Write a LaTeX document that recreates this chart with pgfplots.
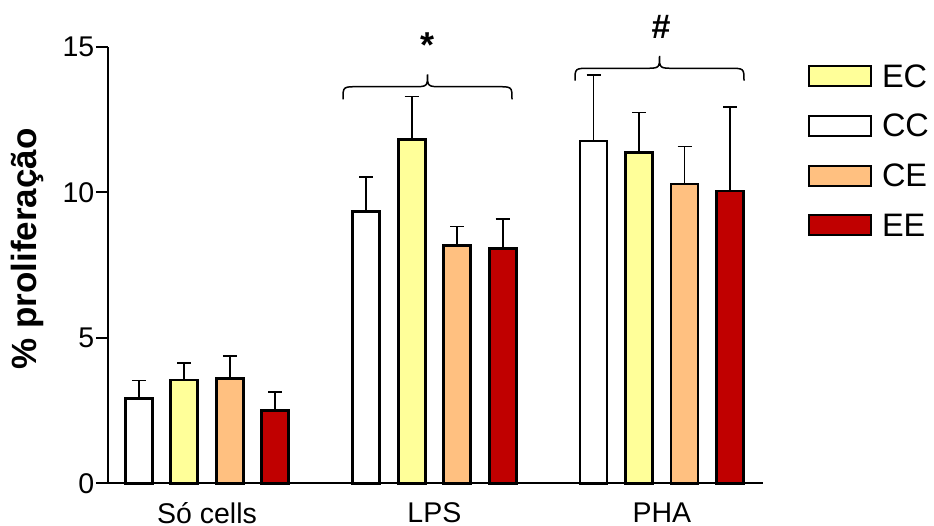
\documentclass[border=0pt]{standalone}
\usepackage{fontspec}
\setmainfont{Liberation Sans}
\usepackage{pgfplots}
\pgfplotsset{compat=1.18}
\definecolor{cyel}{RGB}{255,255,153}
\definecolor{corg}{RGB}{255,192,128}
\definecolor{cred}{RGB}{192,0,0}
\begin{document}
\begin{tikzpicture}
\begin{axis}[
  at={(0pt,0pt)}, anchor=south west,
  scale only axis, width=655pt, height=436.6pt,
  xmin=-0.4354, xmax=2.445, ymin=0, ymax=15,
  axis x line=bottom, axis y line=left,
  axis line style={-, line width=2pt, black},
  ybar, bar width=27pt,
  xtick={0,1,2}, xticklabels={Só cells, LPS, PHA},
  x tick style={draw=none},
  ytick={0,5,10,15},
  tick align=outside, major tick length=12pt,
  y tick style={line width=2pt, black},
  /pgf/number format/assume math mode=true,
  tick label style={font=\fontsize{28.5}{28.5}\selectfont},
  yticklabel style={inner sep=1.5pt},
  xticklabel style={inner sep=0pt, yshift=-7pt},
  ylabel={\textbf{\% proliferação}},
  ylabel style={font=\fontsize{35}{35}\selectfont, at={(axis description cs:-0.1237,0.5366)}, anchor=center},
  clip=false,
  legend image code/.code={\draw[#1, line width=2pt] (1pt,-10pt) rectangle (63pt,10pt);},
  legend cell align=left,
  legend style={at={(axis description cs:1.0687,0.958)}, anchor=north west,
    draw=none, fill=none, inner sep=0pt, outer sep=0pt,
    row sep=27.8pt, column sep=10pt,
    font=\fontsize{32.5}{32.5}\selectfont,
    nodes={inner sep=0pt, text height=22pt, text depth=0pt}},
  error bars/y dir=plus, error bars/y explicit,
  error bars/error bar style={line width=1.8pt, black},
  error bars/error mark options={rotate=90, mark size=7pt, line width=1.8pt, black},
]
\addplot[fill=cyel, draw=black, line width=2.8pt, bar shift=-22.75pt]
  coordinates {(0,3.55) +- (0,0.59) (1,11.82) +- (0,1.47) (2,11.36) +- (0,1.38)};
\addplot[fill=white, draw=black, line width=2.8pt, bar shift=-68.25pt]
  coordinates {(0,2.90) +- (0,0.63) (1,9.33) +- (0,1.19) (2,11.76) +- (0,2.27)};
\addplot[fill=corg, draw=black, line width=2.8pt, bar shift=22.75pt]
  coordinates {(0,3.60) +- (0,0.78) (1,8.17) +- (0,0.65) (2,10.28) +- (0,1.29)};
\addplot[fill=cred, draw=black, line width=2.8pt, bar shift=68.25pt]
  coordinates {(0,2.51) +- (0,0.63) (1,8.06) +- (0,1.02) (2,10.04) +- (0,2.90)};
\legend{EC, CC, CE, EE}
\end{axis}
% braces and significance marks
\draw[line width=1.5pt] (235pt,384pt) .. controls (235pt,396.6pt) .. (250pt,396.6pt) -- (304.5pt,396.6pt)
  .. controls (319.5pt,396.6pt) .. (319.5pt,409pt) .. controls (319.5pt,396.6pt) .. (334.5pt,396.6pt)
  -- (389pt,396.6pt) .. controls (404pt,396.6pt) .. (404pt,384pt);
\draw[line width=1.5pt] (467pt,402.6pt) .. controls (467pt,415pt) .. (482pt,415pt) -- (536.5pt,415pt)
  .. controls (551.5pt,415pt) .. (551.5pt,427.3pt) .. controls (551.5pt,415pt) .. (566.5pt,415pt)
  -- (621pt,415pt) .. controls (636pt,415pt) .. (636pt,402.6pt);
\node[font=\fontsize{36}{36}\selectfont\bfseries, inner sep=0pt] at (319pt,437.8pt) {*};
\node[font=\fontsize{34}{34}\selectfont\bfseries, inner sep=0pt] at (553pt,456.6pt) {\#};
\pgfresetboundingbox
\path[use as bounding box] (-108pt,-42.7pt) rectangle (826pt,483.3pt);
\end{tikzpicture}
\end{document}
